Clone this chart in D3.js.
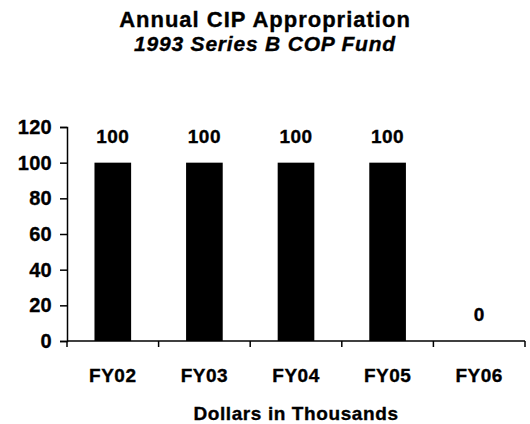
<!DOCTYPE html>
<html lang="en">
<head>
    <meta charset="UTF-8">
    <title>Annual CIP Appropriation</title>
    <script src="https://cdn.jsdelivr.net/npm/d3@7"></script>
    <style>
        body { margin: 0; background: #fff; }
        text { font-family: "Liberation Sans", Arial, sans-serif; font-weight: bold; fill: #000;
               stroke: #000; stroke-width: 0.35px; }
    </style>
</head>
<body>
<div id="chart"></div>
<script>
// chart data
var years = ["FY02", "FY03", "FY04", "FY05", "FY06"];
var amounts = [100, 100, 100, 100, 0];
var yTicks = [0, 20, 40, 60, 80, 100, 120];

var width = 530, height = 424;
var margin = {top: 127, right: 5, bottom: 83, left: 67};

var svg = d3.select("#chart").append("svg")
    .attr("width", width)
    .attr("height", height);

var x = d3.scaleBand()
    .domain(years)
    .range([margin.left, width - margin.right])
    .paddingInner(0.6)
    .paddingOuter(0.3);

var y = d3.scaleLinear()
    .domain([0, 120])
    .range([height - margin.bottom, margin.top]);

// titles
svg.append("text")
    .attr("x", 265).attr("y", 27)
    .attr("text-anchor", "middle")
    .style("font-size", "22px")
    .style("letter-spacing", "1px")
    .text("Annual CIP Appropriation");
svg.append("text")
    .attr("x", 265).attr("y", 51)
    .attr("text-anchor", "middle")
    .style("font-size", "21px")
    .style("letter-spacing", "0.8px")
    .style("font-style", "italic")
    .text("1993 Series B COP Fund");

// bars
svg.selectAll("rect.bar")
    .data(amounts)
    .enter().append("rect")
    .attr("class", "bar")
    .attr("x", function (d, i) { return x(years[i]); })
    .attr("width", x.bandwidth())
    .attr("y", function (d) { return y(d); })
    .attr("height", function (d) { return y(0) - y(d); })
    .attr("fill", "#000");

// value labels
svg.selectAll("text.val")
    .data(amounts)
    .enter().append("text")
    .attr("class", "val")
    .attr("x", function (d, i) { return x(years[i]) + x.bandwidth() / 2; })
    .attr("y", function (d) { return y(d) - 20; })
    .attr("text-anchor", "middle")
    .style("font-size", "19px")
    .style("letter-spacing", "0.5px")
    .text(function (d) { return d; });

// y axis
var yAxis = svg.append("g")
    .attr("transform", "translate(" + margin.left + ",0)")
    .call(d3.axisLeft(y).tickValues(yTicks).tickSize(7).tickPadding(8));
yAxis.selectAll("text")
    .style("font-size", "20px")
    .style("letter-spacing", "0.3px")
    .style("font-family", "Liberation Sans, Arial, sans-serif");
yAxis.select(".domain").attr("stroke-width", 1.5);
yAxis.selectAll(".tick line").attr("stroke-width", 1.5);

// x axis, ticks at category boundaries
var xAxisG = svg.append("g")
    .attr("transform", "translate(0," + y(0) + ")");
xAxisG.append("line")
    .attr("x1", margin.left).attr("x2", width - margin.right)
    .attr("stroke", "#000").attr("stroke-width", 1.5);
var step = x.step();
var bounds = d3.range(years.length + 1).map(function (i) {
    return margin.left + x.paddingOuter() * step - x.paddingInner() * step / 2 + i * step;
});
xAxisG.selectAll("line.tick")
    .data(bounds)
    .enter().append("line")
    .attr("class", "tick")
    .attr("x1", function (d) { return d; }).attr("x2", function (d) { return d; })
    .attr("y1", 0).attr("y2", 6)
    .attr("stroke", "#000").attr("stroke-width", 1.5);
xAxisG.selectAll("text")
    .data(years)
    .enter().append("text")
    .attr("x", function (d) { return x(d) + x.bandwidth() / 2; })
    .attr("y", 41)
    .attr("text-anchor", "middle")
    .style("font-size", "19px")
    .style("letter-spacing", "0.5px")
    .text(function (d) { return d; });

// axis title
svg.append("text")
    .attr("x", (margin.left + width - margin.right) / 2).attr("y", 420)
    .attr("text-anchor", "middle")
    .style("font-size", "19px")
    .style("letter-spacing", "0.6px")
    .text("Dollars in Thousands");
</script>
</body>
</html>
